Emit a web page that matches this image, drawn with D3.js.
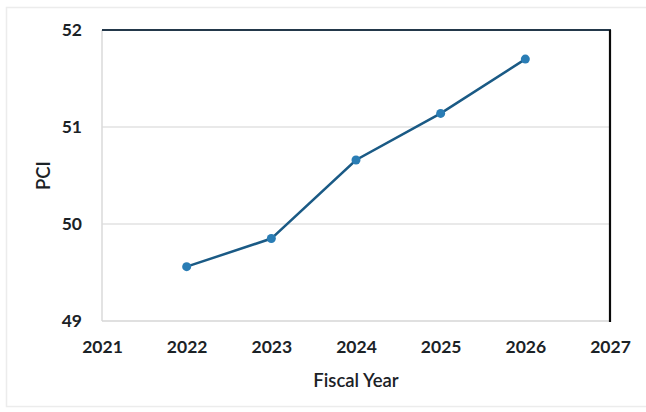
<!DOCTYPE html>
<html>
<head>
<meta charset="utf-8">
<script src="https://cdn.jsdelivr.net/npm/d3@7/dist/d3.min.js"></script>
<style>
  html, body { margin: 0; padding: 0; background: #fff; }
  svg { display: block; }
  text { font-family: Lato, "Open Sans", sans-serif; fill: #1b2226; }
</style>
</head>
<body>
<svg id="chart" width="646" height="412"></svg>
<script>
// Pavement Condition Index by fiscal year
const years = [2022, 2023, 2024, 2025, 2026];
const pci = [49.56, 49.85, 50.66, 51.14, 51.70];
const xTicks = [2021, 2022, 2023, 2024, 2025, 2026, 2027];
const yTicks = [49, 50, 51, 52];

const svg = d3.select("#chart");
const W = 646, H = 412;
const plot = { left: 102, right: 610, top: 30, bottom: 321 };

// faint frame around the whole chart
svg.append("rect")
  .attr("x", 6.5).attr("y", 7.5)
  .attr("width", W + 10).attr("height", 399)
  .attr("fill", "none").attr("stroke", "#ececec").attr("stroke-width", 1.5);

const x = d3.scaleLinear().domain([2021, 2027]).range([plot.left, plot.right]);
const y = d3.scaleLinear().domain([49, 52]).range([plot.bottom, plot.top]);

// horizontal gridlines
svg.append("g")
  .selectAll("line")
  .data(yTicks.filter(t => t > 49 && t < 52))
  .join("line")
  .attr("x1", plot.left).attr("x2", plot.right)
  .attr("y1", d => y(d)).attr("y2", d => y(d))
  .attr("stroke", "#e2e2e2").attr("stroke-width", 1.5);

// plot frame: light left/bottom, dark top/right
svg.append("line")
  .attr("x1", plot.left).attr("x2", plot.left)
  .attr("y1", plot.top).attr("y2", plot.bottom)
  .attr("stroke", "#dadada").attr("stroke-width", 1.5);
svg.append("line")
  .attr("x1", plot.left).attr("x2", plot.right)
  .attr("y1", plot.bottom).attr("y2", plot.bottom)
  .attr("stroke", "#d6d6d6").attr("stroke-width", 1.5);
svg.append("line")
  .attr("x1", plot.left).attr("x2", plot.right + 1)
  .attr("y1", plot.top).attr("y2", plot.top)
  .attr("stroke", "#23384a").attr("stroke-width", 2);
svg.append("line")
  .attr("x1", plot.right).attr("x2", plot.right)
  .attr("y1", plot.top).attr("y2", plot.bottom + 1)
  .attr("stroke", "#0a0a0a").attr("stroke-width", 2.2);

// y axis labels
const yAxis = d3.axisLeft(y).tickValues(yTicks).tickSize(0).tickPadding(20).tickFormat(d3.format("d"));
const gy = svg.append("g").attr("transform", `translate(${plot.left},0)`).call(yAxis);
gy.select(".domain").remove();
gy.selectAll("text")
  .attr("font-size", 17.5).attr("font-weight", 700)
  .style("font-family", "Lato, sans-serif").attr("fill", "#1b2226");

// x axis labels
const xAxis = d3.axisBottom(x).tickValues(xTicks).tickSize(0).tickPadding(20).tickFormat(d3.format("d"));
const gx = svg.append("g").attr("transform", `translate(0,${plot.bottom})`).call(xAxis);
gx.select(".domain").remove();
gx.selectAll("text")
  .attr("font-size", 17.5).attr("font-weight", 700)
  .style("font-family", "Lato, sans-serif").attr("fill", "#1b2226");

// axis titles
svg.append("text")
  .attr("x", (plot.left + plot.right) / 2).attr("y", 387)
  .attr("text-anchor", "middle")
  .attr("font-size", 18.5).attr("font-weight", 600)
  .text("Fiscal Year");
svg.append("text")
  .attr("transform", `translate(50,${(plot.top + plot.bottom) / 2}) rotate(-90)`)
  .attr("text-anchor", "middle")
  .attr("font-size", 18.5).attr("font-weight", 600)
  .text("PCI");

// series
const pts = years.map((yr, i) => ({ yr, v: pci[i] }));
const line = d3.line().x(d => x(d.yr)).y(d => y(d.v));
svg.append("path")
  .datum(pts)
  .attr("d", line)
  .attr("fill", "none")
  .attr("stroke", "#1a5a85")
  .attr("stroke-width", 2.5);
svg.append("g")
  .selectAll("circle")
  .data(pts)
  .join("circle")
  .attr("cx", d => x(d.yr)).attr("cy", d => y(d.v))
  .attr("r", 4.5)
  .attr("fill", "#2a7db5");
</script>
</body>
</html>
